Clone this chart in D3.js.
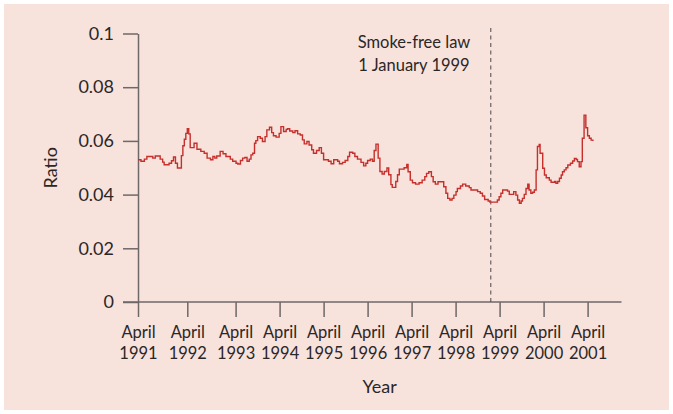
<!DOCTYPE html>
<html>
<head>
<meta charset="utf-8">
<script src="https://cdn.jsdelivr.net/npm/d3@7"></script>
<style>
  body { margin: 0; background: #fff; }
  text { font-family: Lato, "Open Sans", sans-serif; fill: #2b2727; }
</style>
</head>
<body>
<div id="chart"></div>
<script>
// years after April 1991 where the step changes, and the ratio from there on
const years = [
  0.00, 0.06, 0.13, 0.18, 0.30, 0.35, 0.45, 0.50, 0.53, 0.63, 0.68, 0.72, 0.76, 0.80, 0.88, 0.91, 0.94, 0.97,
  1.00, 1.03, 1.06, 1.14, 1.20, 1.28, 1.35, 1.41, 1.48, 1.53, 1.57, 1.61, 1.68, 1.74, 1.80, 1.89, 1.94,
  2.01, 2.05, 2.11, 2.16, 2.21, 2.26, 2.31, 2.35, 2.39, 2.43, 2.46, 2.50, 2.56, 2.61, 2.67, 2.71, 2.77, 2.82, 2.86, 2.92, 2.99,
  3.03, 3.09, 3.15, 3.18, 3.23, 3.30, 3.35, 3.41, 3.47, 3.52, 3.56, 3.62, 3.67, 3.73, 3.77, 3.84, 3.90, 3.95,
  4.00, 4.11, 4.17, 4.23, 4.32, 4.36, 4.43, 4.49, 4.55, 4.59, 4.66, 4.71, 4.77, 4.85, 4.91, 4.96,
  5.00, 5.06, 5.11, 5.15, 5.19, 5.24, 5.28, 5.33, 5.38, 5.44, 5.48, 5.53, 5.56, 5.64, 5.68, 5.72, 5.83, 5.89, 5.92, 5.97,
  6.02, 6.09, 6.17, 6.24, 6.30, 6.34, 6.39, 6.45, 6.49, 6.54, 6.60, 6.73, 6.78, 6.82, 6.87, 6.92, 6.96,
  7.01, 7.04, 7.11, 7.16, 7.23, 7.31, 7.35, 7.50, 7.56, 7.61, 7.66, 7.74, 7.78, 7.95, 7.99,
  8.03, 8.07, 8.18, 8.22, 8.32, 8.37, 8.41, 8.45, 8.49, 8.52, 8.56, 8.60, 8.64, 8.67, 8.71, 8.75, 8.79, 8.83, 8.86, 8.90, 8.92, 8.98,
  9.02, 9.06, 9.13, 9.17, 9.25, 9.28, 9.32, 9.36, 9.40, 9.43, 9.47, 9.51, 9.55, 9.61, 9.66, 9.70, 9.74, 9.77, 9.81, 9.85, 9.88, 9.92, 9.96,
  10.00, 10.04, 10.08, 10.12
];
const ratio = [
  0.0530, 0.0524, 0.0532, 0.0542, 0.0536, 0.0544, 0.0532, 0.0521, 0.0511, 0.0517, 0.0526, 0.0540, 0.0517, 0.0499, 0.0545, 0.0582, 0.0606, 0.0628,
  0.0645, 0.0626, 0.0575, 0.0591, 0.0569, 0.0561, 0.0554, 0.0536, 0.0530, 0.0542, 0.0536, 0.0544, 0.0561, 0.0552, 0.0542, 0.0532, 0.0524,
  0.0517, 0.0514, 0.0527, 0.0536, 0.0538, 0.0524, 0.0532, 0.0548, 0.0554, 0.0591, 0.0601, 0.0616, 0.0610, 0.0598, 0.0616, 0.0641, 0.0651, 0.0631, 0.0619, 0.0614, 0.0628,
  0.0653, 0.0635, 0.0643, 0.0645, 0.0637, 0.0631, 0.0638, 0.0626, 0.0622, 0.0604, 0.0589, 0.0598, 0.0585, 0.0567, 0.0554, 0.0564, 0.0575, 0.0554,
  0.0530, 0.0524, 0.0515, 0.0530, 0.0524, 0.0515, 0.0520, 0.0527, 0.0542, 0.0558, 0.0554, 0.0542, 0.0532, 0.0520, 0.0507, 0.0517,
  0.0527, 0.0532, 0.0524, 0.0564, 0.0588, 0.0536, 0.0486, 0.0477, 0.0486, 0.0499, 0.0474, 0.0437, 0.0427, 0.0449, 0.0474, 0.0495, 0.0500, 0.0512, 0.0485, 0.0454,
  0.0444, 0.0439, 0.0444, 0.0454, 0.0467, 0.0479, 0.0485, 0.0467, 0.0448, 0.0439, 0.0448, 0.0429, 0.0405, 0.0386, 0.0380, 0.0386, 0.0398,
  0.0411, 0.0423, 0.0432, 0.0439, 0.0432, 0.0426, 0.0417, 0.0411, 0.0405, 0.0395, 0.0382, 0.0376, 0.0372, 0.0380, 0.0392,
  0.0405, 0.0417, 0.0413, 0.0401, 0.0411, 0.0398, 0.0380, 0.0368, 0.0376, 0.0386, 0.0401, 0.0423, 0.0439, 0.0417, 0.0405, 0.0409, 0.0417, 0.0492, 0.0579, 0.0587, 0.0554, 0.0498,
  0.0473, 0.0463, 0.0454, 0.0446, 0.0449, 0.0442, 0.0449, 0.0461, 0.0473, 0.0485, 0.0492, 0.0500, 0.0510, 0.0517, 0.0525, 0.0535, 0.0531, 0.0523, 0.0504, 0.0523, 0.0610, 0.0696, 0.0649,
  0.0619, 0.0610, 0.0603, 0.0600
];

const tickYears = [1991, 1992, 1993, 1994, 1995, 1996, 1997, 1998, 1999, 2000, 2001];
const yTicks = [0, 0.02, 0.04, 0.06, 0.08, 0.1];
const lawYear = 7.8; // 1 January 1999 on this axis
const axisEnd = 10.77;

const width = 673, height = 414;
const plotLeft = 138, plotBottom = 302, plotTop = 33.5;
// the printed axis spaces its April ticks unevenly
const tickOffsets = [0, 49.3, 97.6, 141.6, 185.6, 229.6, 273.6, 317.6, 361.6, 405.6, 449.6];

const x = d3.scaleLinear()
  .domain(tickYears.map((d, i) => i))
  .range(tickOffsets.map(d => plotLeft + d));
const y = d3.scaleLinear().domain([0, 0.1]).range([plotBottom, plotTop]);

const svg = d3.select("#chart").append("svg")
  .attr("width", width)
  .attr("height", height);

svg.append("rect")
  .attr("x", 4).attr("y", 4)
  .attr("width", width - 8).attr("height", height - 8)
  .attr("fill", "#f7e2dc");

const axisColor = "#6e6868";

// y axis
const yAxis = d3.axisLeft(y)
  .tickValues(yTicks)
  .tickSize(15)
  .tickSizeOuter(0)
  .tickPadding(9)
  .tickFormat(d => d === 0 ? "0" : d3.format(".2~f")(d));

svg.append("g")
  .attr("transform", "translate(" + [plotLeft, 0] + ")")
  .call(yAxis)
  .call(g => g.select(".domain").attr("stroke", axisColor).attr("stroke-width", 1.5))
  .call(g => g.selectAll(".tick line").attr("stroke", axisColor).attr("stroke-width", 1.5))
  .call(g => g.selectAll(".tick text")
    .attr("font-size", 18)
    .attr("fill", "#2b2727")
    .style("font-family", "Lato, sans-serif"));

// x axis
const xAxis = d3.axisBottom(x)
  .tickValues(tickYears.map((d, i) => i))
  .tickSize(15)
  .tickSizeOuter(0)
  .tickFormat(() => "");

svg.append("g")
  .attr("transform", "translate(" + [0, plotBottom] + ")")
  .call(xAxis)
  .call(g => g.select(".domain").remove())
  .call(g => g.selectAll(".tick line").attr("stroke", axisColor).attr("stroke-width", 1.5))
  .call(g => g.selectAll(".tick text").remove())
  .call(g => g.selectAll(".tick").append("text")
    .attr("text-anchor", "middle")
    .attr("font-size", 16.5)
    .attr("fill", "#2b2727")
    .selectAll("tspan")
    .data(i => ["April", String(tickYears[i])])
    .join("tspan")
    .attr("x", 0)
    .attr("y", (d, j) => j === 0 ? 36 : 57)
    .text(d => d));

svg.append("line")
  .attr("x1", plotLeft - 15).attr("x2", x(axisEnd))
  .attr("y1", plotBottom).attr("y2", plotBottom)
  .attr("stroke", axisColor)
  .attr("stroke-width", 1.5);

// smoke-free law marker
svg.append("line")
  .attr("x1", x(lawYear)).attr("x2", x(lawYear))
  .attr("y1", 28).attr("y2", plotBottom)
  .attr("stroke", "#4d4848")
  .attr("stroke-width", 1)
  .attr("stroke-dasharray", "4,3.5");

svg.append("text")
  .attr("x", 414).attr("y", 48)
  .attr("text-anchor", "middle")
  .attr("font-size", 16.5)
  .text("Smoke-free law");
svg.append("text")
  .attr("x", 414).attr("y", 71)
  .attr("text-anchor", "middle")
  .attr("font-size", 16.5)
  .text("1 January 1999");

// series
const series = years.map((t, i) => [t, ratio[i]]);
const line = d3.line()
  .x(d => x(d[0]))
  .y(d => y(d[1]))
  .curve(d3.curveStepAfter);

svg.append("path")
  .datum(series)
  .attr("d", line)
  .attr("fill", "none")
  .attr("stroke", "#c62f2c")
  .attr("stroke-width", 1.4)
  .attr("stroke-linejoin", "miter");

// axis titles
svg.append("text")
  .attr("x", (plotLeft + x(axisEnd)) / 2)
  .attr("y", 393)
  .attr("text-anchor", "middle")
  .attr("font-size", 18)
  .text("Year");

svg.append("text")
  .attr("transform", "translate(57," + (plotBottom + plotTop) / 2 + ") rotate(-90)")
  .attr("text-anchor", "middle")
  .attr("font-size", 18)
  .text("Ratio");
</script>
</body>
</html>
